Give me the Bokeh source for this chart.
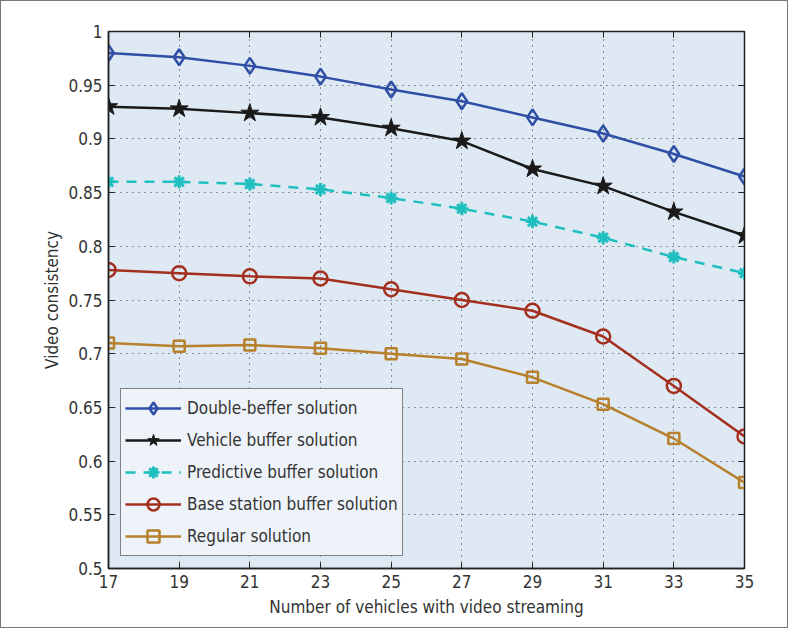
from bokeh.plotting import figure
from bokeh.models import FixedTicker, LinearAxis, Legend, LegendItem, Range1d, CustomLabelingPolicy
from bokeh.embed import file_html
from bokeh.resources import INLINE

x_vals = [17, 19, 21, 23, 25, 27, 29, 31, 33, 35]
double_beffer = [0.980, 0.976, 0.968, 0.958, 0.946, 0.935, 0.920, 0.905, 0.886, 0.865]
vehicle_buffer = [0.930, 0.928, 0.924, 0.920, 0.910, 0.898, 0.872, 0.856, 0.832, 0.810]
predictive_buffer = [0.860, 0.860, 0.858, 0.853, 0.845, 0.835, 0.823, 0.808, 0.790, 0.775]
base_station = [0.778, 0.775, 0.772, 0.770, 0.760, 0.750, 0.740, 0.716, 0.670, 0.623]
regular = [0.710, 0.707, 0.708, 0.705, 0.700, 0.695, 0.678, 0.653, 0.621, 0.580]
y_ticks = [0.5, 0.55, 0.6, 0.65, 0.7, 0.75, 0.8, 0.85, 0.9, 0.95, 1.0]
y_tick_labels = ["0.5", "0.55", "0.6", "0.65", "0.7", "0.75", "0.8", "0.85", "0.9", "0.95", "1"]

FONT = "'Liberation Sans Narrow', 'DejaVu Sans Condensed', 'Roboto Condensed', sans-serif"

p = figure(width=788, height=628, output_backend="svg", toolbar_location=None,
           x_range=Range1d(17, 35), y_range=Range1d(0.5, 1.0),
           min_border_left=107, min_border_right=45, min_border_top=30, min_border_bottom=61)
p.styles = {"border": "1px solid #777"}
p.background_fill_color = "#dfe9f4"
p.border_fill_color = "white"
p.outline_line_color = "#222222"
p.outline_line_width = 1.5

for ax in [p.xaxis[0], p.yaxis[0]]:
    ax.major_tick_in = 6
    ax.major_tick_out = 0
    ax.minor_tick_in = 0
    ax.minor_tick_out = 0
    ax.axis_line_color = "#222222"
    ax.axis_line_width = 1.5
    ax.major_tick_line_color = "#222222"
    ax.major_label_text_font = FONT
    ax.major_label_text_font_size = "17px"
    ax.major_label_text_color = "#333333"
    ax.axis_label_text_font = FONT
    ax.axis_label_text_font_size = "17px"
    ax.axis_label_text_font_style = "normal"
    ax.axis_label_text_color = "#333333"

p.xaxis[0].ticker = FixedTicker(ticks=x_vals)
p.yaxis[0].ticker = FixedTicker(ticks=y_ticks)
p.yaxis[0].major_label_overrides = {t: l for t, l in zip(y_ticks, y_tick_labels)}
p.xaxis[0].axis_label = "Number of vehicles with video streaming"
p.yaxis[0].axis_label = "Video consistency"
p.xaxis[0].major_label_standoff = 6
p.yaxis[0].major_label_standoff = 6
p.xaxis[0].axis_label_standoff = 6
p.yaxis[0].axis_label_standoff = 3

# mirror axes (top/right) with inside ticks, no labels
top = LinearAxis(ticker=FixedTicker(ticks=x_vals), major_label_policy=CustomLabelingPolicy(code="return [];"),
                 major_tick_in=6, major_tick_out=0, minor_tick_in=0, minor_tick_out=0,
                 axis_line_color="#222222", major_tick_line_color="#222222", major_label_standoff=0)
right = LinearAxis(ticker=FixedTicker(ticks=y_ticks), major_label_policy=CustomLabelingPolicy(code="return [];"),
                   major_tick_in=6, major_tick_out=0, minor_tick_in=0, minor_tick_out=0,
                   axis_line_color="#222222", major_tick_line_color="#222222", major_label_standoff=0)
p.add_layout(top, "above")
p.add_layout(right, "right")

p.xgrid.ticker = FixedTicker(ticks=x_vals)
p.ygrid.ticker = FixedTicker(ticks=y_ticks)
p.grid.grid_line_color = "#333333"
p.grid.grid_line_dash = "1 5"
p.grid.grid_line_width = 1

c_blue = "#2f4fa6"
c_black = "#1a1a1a"
c_cyan = "#1fbfc0"
c_red = "#a3301e"
c_gold = "#b7802c"

items = []
l1 = p.line(x_vals, double_beffer, line_color=c_blue, line_width=2.5)
m1 = p.scatter(x_vals, double_beffer, marker="diamond", size=16, line_color=c_blue,
               fill_color=None, line_width=2.5)
items.append(LegendItem(label="Double-beffer solution", renderers=[l1, m1]))

l2 = p.line(x_vals, vehicle_buffer, line_color=c_black, line_width=2.5)
m2 = p.scatter(x_vals, vehicle_buffer, marker="star", size=19, line_color=c_black,
               fill_color=c_black, line_width=1)
items.append(LegendItem(label="Vehicle buffer solution", renderers=[l2, m2]))

l3 = p.line(x_vals, predictive_buffer, line_color=c_cyan, line_width=2.5, line_dash="10 8")
m3 = p.scatter(x_vals, predictive_buffer, marker="asterisk", size=13, line_color=c_cyan,
               line_width=3)
items.append(LegendItem(label="Predictive buffer solution", renderers=[l3, m3]))

l4 = p.line(x_vals, base_station, line_color=c_red, line_width=2.5)
m4 = p.scatter(x_vals, base_station, marker="circle", size=14, line_color=c_red,
               fill_color=None, line_width=2.5)
items.append(LegendItem(label="Base station buffer solution", renderers=[l4, m4]))

l5 = p.line(x_vals, regular, line_color=c_gold, line_width=2.5)
m5 = p.scatter(x_vals, regular, marker="square", size=11, line_color=c_gold,
               fill_color=None, line_width=2.5)
items.append(LegendItem(label="Regular solution", renderers=[l5, m5]))

legend = Legend(items=items, location="bottom_left")
legend.label_text_font = FONT
legend.label_text_font_size = "17px"
legend.label_text_color = "#333333"
legend.background_fill_color = "#eef3f9"
legend.background_fill_alpha = 1
legend.border_line_color = "#111111"
legend.border_line_width = 1.5
legend.glyph_width = 56
legend.glyph_height = 30
legend.label_height = 30
legend.spacing = 2
legend.padding = 4
legend.margin = 12
legend.label_standoff = 6
p.add_layout(legend)

open("out.html", "w").write(file_html(p, INLINE))
